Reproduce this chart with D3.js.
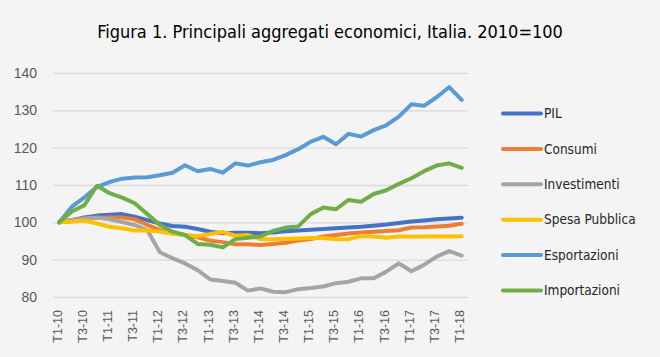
<!DOCTYPE html>
<html><head><meta charset="utf-8">
<script src="https://cdn.jsdelivr.net/npm/d3@7"></script>
<style>
html,body{margin:0;padding:0;background:#f4f4f4;}
svg{display:block;}
</style></head>
<body>
<svg id="chart" width="660" height="357"></svg>
<script>
const categories = [];
for (let y = 10; y <= 18; y++) {
  for (let q = 1; q <= 4; q++) {
    if (y === 18 && q > 1) break;
    categories.push("T" + q + "-" + y);
  }
}
const tickLabels = categories.filter((d, i) => i % 2 === 0);
const yTicks = [80, 90, 100, 110, 120, 130, 140];

const seriesNames = ["PIL", "Consumi", "Investimenti", "Spesa Pubblica", "Esportazioni", "Importazioni"];
const seriesColors = ["#4472C4", "#ED7D31", "#A5A5A5", "#FFC000", "#5B9BD5", "#70AD47"];

const pil = [100, 100.6, 101.3, 101.8, 102.0, 102.2, 101.5, 100.6, 99.7, 99.0, 98.8, 98.2, 97.5, 97.1, 97.2, 97.2, 97.1, 97.3, 97.6, 97.8, 98.0, 98.2, 98.4, 98.6, 98.8, 99.1, 99.4, 99.8, 100.2, 100.5, 100.8, 101.0, 101.2];
const consumi = [100, 100.3, 101.0, 101.2, 101.3, 101.3, 100.8, 99.3, 97.9, 97.0, 96.6, 96.0, 95.1, 94.7, 94.1, 94.1, 93.9, 94.2, 94.5, 95.1, 95.5, 96.2, 96.6, 97.0, 97.3, 97.5, 97.7, 97.9, 98.6, 98.7, 98.9, 99.1, 99.6];
const investimenti = [100, 100.6, 101.0, 101.3, 100.8, 100.1, 99.3, 97.9, 92.0, 90.4, 89.0, 87.2, 84.7, 84.3, 83.8, 81.7, 82.3, 81.4, 81.3, 82.1, 82.4, 82.8, 83.7, 84.1, 85.0, 85.0, 86.8, 89.0, 86.9, 88.6, 90.8, 92.3, 91.1];
const spesaPubblica = [100, 100.2, 100.5, 99.7, 98.8, 98.4, 97.8, 97.9, 97.5, 97.0, 96.6, 96.3, 96.9, 97.4, 96.4, 96.6, 95.5, 95.5, 95.6, 95.7, 95.8, 95.8, 95.5, 95.5, 96.3, 96.2, 95.9, 96.2, 96.2, 96.2, 96.3, 96.2, 96.3];
const esportazioni = [100, 104.2, 106.7, 109.5, 110.8, 111.7, 112.0, 112.1, 112.6, 113.3, 115.3, 113.7, 114.3, 113.3, 115.8, 115.2, 116.1, 116.7, 118.0, 119.6, 121.6, 122.9, 120.9, 123.7, 123.0, 124.7, 126.0, 128.3, 131.6, 131.2, 133.5, 136.2, 132.8];
const importazioni = [100, 102.9, 104.6, 109.8, 107.8, 106.6, 105.1, 102.2, 99.3, 97.5, 96.6, 94.2, 94.0, 93.3, 95.5, 95.9, 96.2, 97.7, 98.6, 98.9, 102.2, 104.0, 103.5, 106.0, 105.5, 107.6, 108.6, 110.3, 111.8, 113.7, 115.2, 115.8, 114.6];

const seriesValues = [pil, consumi, investimenti, spesaPubblica, esportazioni, importazioni];

const svg = d3.select("#chart");
const W = 660, H = 357;
svg.append("rect").attr("width", W).attr("height", H).attr("fill", "#f4f4f4");

const plotLeft = 53, plotRight = 468, plotTop = 73, plotBottom = 297;

const x = d3.scaleBand().domain(categories).range([plotLeft, plotRight]);
const xc = d => x(d) + x.bandwidth() / 2;
const y = d3.scaleLinear().domain([80, 140]).range([plotBottom, plotTop]);

// title
svg.append("text")
  .attr("x", 330).attr("y", 38)
  .attr("text-anchor", "middle")
  .attr("font-family", "'DejaVu Sans Condensed', 'DejaVu Sans'")
  .attr("font-stretch", "condensed")
  .attr("font-size", 18)
  .attr("fill", "#000")
  .text("Figura 1. Principali aggregati economici, Italia. 2010=100");

// gridlines
const yAxis = d3.axisLeft(y).tickValues(yTicks).tickSize(-(plotRight - plotLeft)).tickPadding(16);
const gy = svg.append("g").attr("transform", `translate(${plotLeft},0)`).call(yAxis);
gy.select(".domain").remove();
gy.selectAll(".tick line").attr("stroke", "#d9d9d9").attr("stroke-width", 1.3);
gy.selectAll(".tick text")
  .attr("font-family", "'Liberation Sans', Arial, sans-serif")
  .attr("font-size", 14).attr("fill", "#595959");

// x axis labels
const xAxis = d3.axisBottom(x).tickValues(tickLabels).tickSize(0).tickPadding(0);
const gx = svg.append("g").attr("transform", `translate(0,${plotBottom})`).call(xAxis);
gx.select(".domain").remove();
gx.selectAll(".tick text")
  .attr("font-family", "'Liberation Sans', Arial, sans-serif")
  .attr("font-size", 12.5).attr("fill", "#595959")
  .attr("text-anchor", "end")
  .attr("transform", "translate(-2,13) rotate(-90)")
  .attr("dy", "0.35em").attr("y", 0).attr("x", 0);

// lines
const line = d3.line().x((d, i) => xc(categories[i])).y(d => y(d));
seriesValues.forEach((vals, k) => {
  svg.append("path")
    .datum(vals)
    .attr("fill", "none")
    .attr("stroke", seriesColors[k])
    .attr("stroke-width", 4)
    .attr("stroke-linejoin", "round")
    .attr("stroke-linecap", "round")
    .attr("d", line);
});

// legend
const legend = svg.append("g");
seriesNames.forEach((name, k) => {
  const ly = 113.5 + k * 35.4;
  legend.append("line")
    .attr("x1", 503).attr("x2", 541).attr("y1", ly).attr("y2", ly)
    .attr("stroke", seriesColors[k]).attr("stroke-width", 4).attr("stroke-linecap", "round");
  legend.append("text")
    .attr("x", 544).attr("y", ly).attr("dy", "0.35em")
    .attr("font-family", "'DejaVu Sans Condensed', 'DejaVu Sans'")
    .attr("font-stretch", "condensed")
    .attr("font-size", 13.5).attr("fill", "#262626")
    .text(name);
});
</script>
</body></html>
